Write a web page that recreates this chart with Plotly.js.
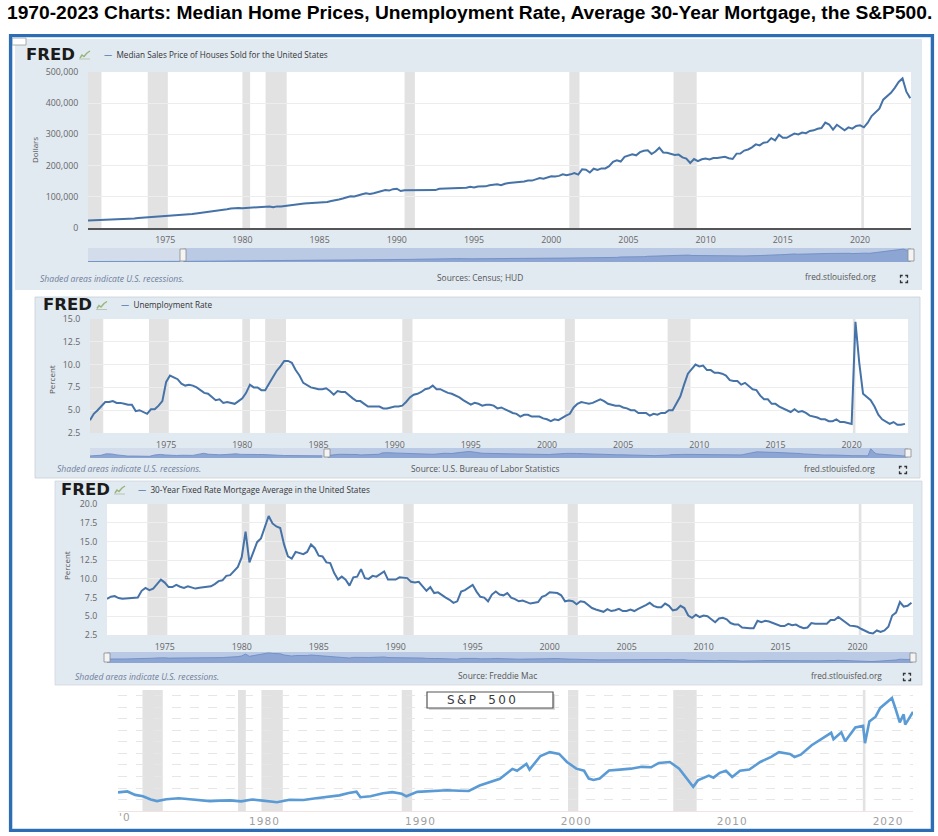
<!DOCTYPE html>
<html><head><meta charset="utf-8">
<script src="https://cdn.plot.ly/plotly-3.0.1.min.js"></script>
<style>html,body{margin:0;padding:0;background:#fff}#chart{width:938px;height:836px}</style>
</head><body><div id="chart"></div>
<script>
// ---------------- DATA ----------------
const recessionStart = [1969.92, 1973.87, 1980.0, 1981.5, 1990.5, 2001.17, 2007.92, 2020.08];
const recessionEnd   = [1970.87, 1975.17, 1980.5, 1982.87, 1991.17, 2001.83, 2009.42, 2020.25];

// Median sales price of houses sold (USD), quarterly from 1970 Q1
const homePriceStart = 1970;
const homePrice = [
 23900,24400,23300,23600, 24800,25300,25500,25800, 26700,27000,27500,28300, 30200,32100,33000,32800,
 35000,35200,36200,37000, 37600,39300,38500,40400, 41800,43200,44300,44600, 46300,47800,49600,50700,
 52000,54700,55500,57800, 59900,62200,63600,63900, 63600,64700,63900,66400, 68200,68200,69500,69200,
 66400,69300,68900,70700, 73800,73500,75400,76800, 78200,79000,80800,80700, 82800,83800,83700,86800,
 88000,91500,94500,97200, 101500,101000,103500,108000, 111600,109000,111500,115400, 118500,121800,119900,124500,
 126000,118500,121000,121000, 120000,120000,120000,120000, 119500,120000,121500,126000, 126500,127000,127000,129500,
 130000,130000,129000,132000, 130000,133000,133500,133500, 137000,138000,140000,137000, 142000,144000,145000,146000,
 149000,149000,152000,152000, 156000,160000,158000,163000, 166000,165000,167000,172000, 169000,172000,176000,171000,
 188000,187000,178000,190000, 186000,191000,191000,198000, 212000,217000,213000,228000, 232000,236000,233000,243000,
 247700,249000,237000,245000, 257400,242200,241000,238400, 233900,235300,226500,222500, 208400,220900,214300,220300,
 222900,219500,224100,224300, 226900,228100,223500,221100, 238400,238700,248200,251700, 258400,268100,264800,273600,
 275200,288000,281000,298900, 289200,289100,295800,302500, 299800,306000,303800,310900, 313100,318200,320500,337900,
 331800,315600,330900,322800, 313000,322500,318400,327100, 329000,322600,337500,358700, 369800,382600,411200,423600,
 433100,449300,468000,479500, 436800,416100
];
// earlier history shown only in the navigator, quarterly from 1963 Q1
const homePriceEarlyStart = 1963;
const homePriceEarly = [
 17800,18000,17900,18500, 18500,18900,18900,19400, 20200,19800,20200,20300, 21000,22100,21500,21400,
 22300,22500,22200,23100, 23000,25000,25700,25700, 25700,25900,24800,24200
];

// Unemployment rate (%), quarterly samples from 1970 Q1
const unempStart = 1970;
const unemployment = [
 3.9,4.6,5.0,5.5, 5.9,5.9,6.0,5.8, 5.8,5.7,5.6,5.6, 4.9,5.0,4.8,4.6, 5.1,5.1,5.5,6.0,
 8.1,8.8,8.6,8.4, 7.9,7.7,7.8,7.7, 7.5,7.2,6.9,6.8, 6.4,6.1,6.2,5.8, 5.9,5.8,5.7,6.0,
 6.3,6.9,7.8,7.5, 7.5,7.2,7.2,7.9, 8.6,9.3,9.8,10.4, 10.4,10.2,9.4,8.8, 8.0,7.7,7.5,7.4,
 7.3,7.3,7.4,7.1, 6.7,7.1,7.0,7.0, 6.6,6.3,6.0,6.0, 5.7,5.4,5.4,5.4, 5.4,5.2,5.2,5.3,
 5.4,5.4,5.5,5.9, 6.4,6.7,6.8,7.0, 7.3,7.4,7.7,7.3, 7.3,7.1,6.9,6.8, 6.6,6.4,6.1,5.8,
 5.6,5.8,5.7,5.5, 5.6,5.6,5.5,5.2, 5.3,5.1,4.9,4.7, 4.6,4.3,4.5,4.5, 4.3,4.3,4.3,4.1,
 4.0,3.8,4.0,3.9, 4.2,4.4,4.6,5.3, 5.7,5.9,5.8,5.7, 5.8,6.0,6.2,6.0, 5.7,5.6,5.5,5.5,
 5.3,5.2,5.0,5.0, 4.7,4.7,4.7,4.4, 4.6,4.5,4.7,4.7, 5.0,5.0,5.8,6.5, 7.8,9.0,9.5,10.0,
 9.8,9.9,9.4,9.4, 9.1,9.1,9.0,8.8, 8.3,8.2,8.2,7.8, 8.0,7.6,7.3,7.2, 6.6,6.2,6.2,5.7,
 5.7,5.4,5.2,5.0, 4.8,5.1,4.8,4.9, 4.7,4.4,4.3,4.2, 4.0,4.0,3.8,3.8, 4.0,3.7,3.7,3.6,
 3.5,14.7,10.2,6.8, 6.4,6.1,5.4,4.5, 4.0,3.7,3.5,3.7, 3.4,3.4,3.5
];
// earlier history shown only in the navigator, half-yearly from 1948
const unempEarlyStart = 1948;
const unemploymentEarly = [
 3.4,3.6, 4.3,6.7, 6.5,5.0, 3.7,3.1, 3.2,3.2, 2.9,2.7, 4.9,5.8, 4.9,4.0, 4.0,4.4, 4.2,4.2,
 5.8,7.5, 6.0,5.1, 5.2,5.5, 6.6,6.7, 5.8,5.4, 5.7,5.6, 5.6,4.9, 4.9,4.4, 4.0,3.8, 3.9,3.8,
 3.7,3.7, 3.4,3.5
];

// 30-year fixed mortgage rate (%), quarterly samples from April 1971
const mortgageStart = 1971.25;
const mortgage = [
 7.33,7.62,7.70, 7.44,7.33,7.40,7.42, 7.44,7.51,8.40,8.80, 8.50,8.70,9.30,9.90, 9.50,8.90,8.90,9.20,
 8.95,8.80,9.00,8.90, 8.70,8.80,8.90,8.90, 9.00,9.30,9.70,9.80, 10.4,10.5,11.0,11.6, 12.9,16.3,12.2,13.7,
 14.9,15.4,16.8,18.4, 17.4,17.0,16.8,14.6, 13.0,12.7,13.6,13.5, 13.3,13.6,14.6,14.1, 13.1,13.0,12.2,12.1,
 10.8,9.9,10.3,9.9, 9.1,10.2,10.3,11.3, 10.1,10.0,10.4,10.3, 10.7,11.0,9.9,9.9, 9.9,10.2,10.1,10.1,
 9.6,9.5,9.6,9.0, 8.4,8.9,8.1,8.2, 7.8,7.5,7.2,6.8, 7.0,8.3,8.5,8.9, 9.2,8.3,7.6,7.5,
 7.0,7.9,8.3,7.9, 7.8,8.1,7.5,7.3, 7.0,7.1,6.95,6.7, 6.8,6.9,7.6,7.8, 8.2,8.2,8.1,7.8,
 7.0,7.1,7.0,6.6, 7.0,6.9,6.5,6.1, 5.9,5.7,5.6,5.95, 5.7,5.8,6.0,5.7, 5.7,5.9,5.7,6.0,
 6.2,6.5,6.8,6.4, 6.2,6.2,6.7,6.4, 5.8,5.9,6.4,6.1, 5.1,4.8,5.2,4.9, 5.1,5.0,4.6,4.2,
 4.7,4.8,4.6,4.1, 3.9,3.9,3.5,3.4, 3.4,3.4,4.4,4.2, 4.4,4.3,4.1,4.0, 3.7,3.7,4.0,3.8,
 3.9,3.6,3.4,3.5, 4.1,4.0,4.0,3.9, 4.0,4.5,4.5,4.9, 4.5,4.1,3.75,3.7, 3.6,3.3,3.0,2.8,
 2.7,3.1,2.9,3.1, 3.6,5.1,5.5,6.9, 6.3,6.4,6.8
];

// S&P 500 (inflation-adjusted level)
const spxYears = [
 1972.3,1972.9,1973.4,1973.9,1974.4,1974.8,1975.4,1976.2,1976.9,1977.5,
 1978.2,1978.8,1979.5,1980.2,1980.9,1981.6,1982.5,1983.3,1984.2,1985.0,
 1985.8,1986.5,1987.1,1987.6,1987.85,1988.5,1989.3,1989.9,1990.5,1990.8,
 1991.5,1992.4,1993.4,1994.2,1994.8,1995.5,1996.2,1996.8,1997.6,1997.9,
 1998.5,1998.7,1999.4,2000.0,2000.6,2001.1,2001.7,2002.2,2002.5,2002.8,
 2003.2,2003.8,2004.5,2005.2,2005.9,2006.5,2007.0,2007.7,2008.3,2008.8,
 2009.2,2009.5,2010.2,2010.5,2010.9,2011.3,2011.7,2012.2,2012.8,2013.5,
 2014.2,2014.7,2015.4,2015.7,2016.1,2016.8,2017.7,2018.05,2018.2,2018.7,
 2018.95,2019.6,2020.1,2020.22,2020.5,2020.9,2021.2,2021.6,2021.95,2022.2,
 2022.45,2022.7,2022.8,2023.0,2023.3
];
const spxValues = [
 810,850,700,640,500,430,510,555,510,470,
 430,450,460,420,500,450,380,490,480,555,
 620,680,780,840,600,640,770,820,750,640,
 830,860,900,880,870,1110,1250,1400,1830,1750,
 2050,1800,2390,2560,2480,2130,1840,1750,1410,1350,
 1410,1760,1800,1840,1920,1900,2090,2130,1840,1410,
 1050,1330,1540,1450,1660,1750,1480,1750,1800,2130,
 2350,2560,2480,2350,2450,2860,3250,3400,3120,3420,
 3030,3630,3700,2950,3890,4100,4480,4700,4910,4400,
 3850,4200,3760,3970,4310
];

const fredTicks = [1975,1980,1985,1990,1995,2000,2005,2010,2015,2020];
const spxTicks = [1980,1990,2000,2010,2020];
const spxTickLabels = ['1\u200A9\u200A8\u200A0','1\u200A9\u200A9\u200A0','2\u200A0\u200A0\u200A0','2\u200A0\u200A1\u200A0','2\u200A0\u200A2\u200A0'];

// ---------------- LAYOUT HELPERS ----------------
const W = 938, H = 836;
const fx = p => p / W, fy = p => 1 - p / H;
const FRED_BLUE = '#4572A7';
const PANEL_BG = '#E1E9F1';
const shapes = [], annotations = [];

function rectPx(x0, y0, x1, y1, fill, line, lw, layer) {
  shapes.push({type:'rect', xref:'paper', yref:'paper', x0:fx(x0), x1:fx(x1), y0:fy(y1), y1:fy(y0),
    fillcolor: fill, line:{color: line || 'rgba(0,0,0,0)', width: lw || 0}, layer: layer || 'below'});
}
function pathPx(pts, color, width, layer) {
  const d = pts.map((p, i) => (i ? 'L' : 'M') + fx(p[0]).toFixed(5) + ',' + fy(p[1]).toFixed(5)).join(' ');
  shapes.push({type:'path', xref:'paper', yref:'paper', path:d, line:{color, width}, layer: layer || 'above'});
}
function ann(text, x, y, font, opts) {
  annotations.push(Object.assign({text, xref:'paper', yref:'paper', x:fx(x), y:fy(y), showarrow:false,
    xanchor:'left', yanchor:'middle', font:Object.assign({family:'Open Sans', size:8.3, color:'#444'}, font || {})}, opts || {}));
}
function expandIcon(cx, cy) {
  const s = 3.5, a = 2.2, c = '#333';
  pathPx([[cx-s, cy-s+a],[cx-s, cy-s],[cx-s+a, cy-s]], c, 1.3);
  pathPx([[cx+s-a, cy-s],[cx+s, cy-s],[cx+s, cy-s+a]], c, 1.3);
  pathPx([[cx-s, cy+s-a],[cx-s, cy+s],[cx-s+a, cy+s]], c, 1.3);
  pathPx([[cx+s-a, cy+s],[cx+s, cy+s],[cx+s, cy+s-a]], c, 1.3);
}
function fredHeader(x, y, lineX, title) {
  ann('FRED', x - 1, y - 0.5, {family:'DejaVu Sans', size:16.5, weight:900, color:'#1b1b1b'});
  // small chart icon
  const ix = x + 54, iy = y - 5;
  pathPx([[ix, iy+9],[ix+11, iy+9]], '#B9C4B0', 1);
  pathPx([[ix+1, iy+8],[ix+3, iy+5],[ix+5, iy+6.5],[ix+8, iy+3],[ix+11, iy+1]], '#97B57A', 1.4);
  ann('<span style="color:' + FRED_BLUE + '">—</span>  ' + title, lineX, y - 0.5, {size: 8.2, color:'#333'});
}
function recessions(xr, yr, range, yrange) {
  for (let i = 0; i < recessionStart.length; i++) {
    const a = Math.max(recessionStart[i], range[0]), b = Math.min(recessionEnd[i], range[1]);
    if (b <= a) continue;
    shapes.push({type:'rect', xref:xr, yref:yr, x0:a, x1:b, y0:yrange[0], y1:yrange[1],
      fillcolor:'#E2E2E2', line:{width:0}, layer:'below'});
  }
}
function navigator(xr, yr, range, yrange, selFrom, selPxL, selPxR, yTop, yBot) {
  shapes.push({type:'rect', xref:xr, yref:yr, x0:range[0], x1:range[1], y0:yrange[0], y1:yrange[1],
    fillcolor:'#D3DCEA', line:{width:0}, layer:'below'});
  shapes.push({type:'rect', xref:xr, yref:yr, x0:selFrom, x1:range[1], y0:yrange[0], y1:yrange[1],
    fillcolor:'#BAC9E4', line:{width:0}, layer:'below'});
  [selPxL, selPxR].forEach(px => rectPx(px-3, yTop+1, px+3, yBot-1, '#F4F4F4', '#8A8A8A', 0.8, 'above'));
}

// ---------------- PAGE DECORATION ----------------
ann('<b>1970-2023 Charts: Median Home Prices, Unemployment Rate, Average 30-Year Mortgage, the S&amp;P500.</b>',
    469, 13, {family:'Liberation Sans', size:19.2, color:'#000'}, {xanchor:'center'});

// panel 1 (home prices)
rectPx(15, 39, 922, 290, PANEL_BG);
rectPx(88, 72, 911, 228, '#FFFFFF');
// panel 2 (unemployment)
rectPx(35, 297, 920, 478, PANEL_BG, '#C9D0D8', 0.8);
rectPx(90, 319, 908, 433, '#FFFFFF');
// panel 3 (mortgage)
rectPx(55, 481, 922, 685, PANEL_BG, '#D0D6DD', 0.8);
rectPx(107, 504, 913, 635, '#FFFFFF');
// little white tab top-left
rectPx(12, 38, 26, 45, '#FFFFFF', '#9A9A9A', 0.8, 'above');

// panel 1 texts
fredHeader(25, 55, 102, 'Median Sales Price of Houses Sold for the United States');
ann('Dollars', 34, 150, {size:8, color:'#555'}, {xanchor:'center', textangle:-90});
ann('<i>Shaded areas indicate U.S. recessions.</i>', 38, 279, {size:8.6, color:'#6F7E9A'});
ann('Sources: Census; HUD', 480, 277, {size:8.4, color:'#555'}, {xanchor:'center'});
ann('fred.stlouisfed.org', 840, 276, {size:8.3, color:'#555'}, {xanchor:'center'});
expandIcon(904, 279);

// panel 2 texts
fredHeader(42, 305.5, 119, 'Unemployment Rate');
ann('Percent', 51, 380, {size:8, color:'#555'}, {xanchor:'center', textangle:-90});
ann('<i>Shaded areas indicate U.S. recessions.</i>', 55, 469, {size:8.6, color:'#6F7E9A'});
ann('Source: U.S. Bureau of Labor Statistics', 485, 469, {size:8.4, color:'#555'}, {xanchor:'center'});
ann('fred.stlouisfed.org', 839, 469, {size:8.3, color:'#555'}, {xanchor:'center'});
expandIcon(903, 470);

// panel 3 texts
fredHeader(60, 490, 136, '30-Year Fixed Rate Mortgage Average in the United States');
ann('Percent', 66, 566, {size:8, color:'#555'}, {xanchor:'center', textangle:-90});
ann('<i>Shaded areas indicate U.S. recessions.</i>', 73, 677, {size:8.6, color:'#6F7E9A'});
ann('Source: Freddie Mac', 497, 675, {size:8.4, color:'#555'}, {xanchor:'center'});
ann('fred.stlouisfed.org', 846, 675, {size:8.3, color:'#555'}, {xanchor:'center'});
expandIcon(907, 677);

// panel 4 (S&P 500) label box
rectPx(429, 694, 555, 710, '#D8D8D8', null, 0, 'above');
rectPx(427, 692, 553, 708, '#FFFFFF', '#555555', 1.2, 'above');
ann('S\u2009&amp;\u2009P\u2002\u2009 5\u20090\u20090', 482, 700, {family:'DejaVu Sans', size:12, color:'#3A3A3A'}, {xanchor:'center'});
ann("'\u200A0", 117, 817, {family:'DejaVu Sans', size:10.5, color:'#A0A0A0'});

// outer frame
rectPx(12, 37, 931, 829, 'rgba(0,0,0,0)', '#9DC3E6', 1, 'above');
rectPx(10.5, 35.5, 932.5, 830.5, 'rgba(0,0,0,0)', '#2E6DB4', 3.2, 'above');

// ---------------- AXES ----------------
const r1 = [1970, 2023.3], r2 = [1970, 2023.7], r3 = [1971.25, 2023.6], r4 = [1972.3, 2023.3];
const nr1 = [1963, 2023.3], nr2 = [1948, 2023.7], nr3 = [1971.25, 2023.6];
const yr1 = [0, 500000], yr2 = [2.5, 15], yr3 = [2.5, 20], yr4 = [0, 5260];
const ny1 = [0, 520000], ny2 = [0, 16], ny3 = [0, 20];

recessions('x', 'y', r1, yr1);
recessions('x2', 'y2', r2, yr2);
recessions('x3', 'y3', r3, yr3);
recessions('x4', 'y4', r4, yr4);
navigator('x5', 'y5', nr1, ny1, 1970, 183, 911, 248, 262);
navigator('x6', 'y6', nr2, ny2, 1970, 327, 908, 448, 458);
navigator('x7', 'y7', nr3, ny3, nr3[0], 107, 913, 652, 663);

const tf = {family:'Open Sans', size:8.8, color:'#666'};
function fredX(dom, range, yAnchor, extra) {
  return Object.assign({domain:[fx(dom[0]), fx(dom[1])], range, anchor:yAnchor, tickvals:fredTicks,
    ticks:'outside', ticklen:3, tickcolor:'rgba(0,0,0,0)', tickfont:tf, showgrid:false, zeroline:false,
    fixedrange:true}, extra || {});
}
function fredY(dom, range, xAnchor, dtick, fmt, extra) {
  return Object.assign({domain:[fy(dom[1]), fy(dom[0])], range, anchor:xAnchor, dtick, tickformat:fmt,
    ticks:'outside', ticklen:7, tickcolor:'rgba(0,0,0,0)', tickfont:tf, gridcolor:'#EDEDED', gridwidth:1,
    zeroline:false, showline:false, fixedrange:true}, extra || {});
}
function navAxes(dom, range, yAnchor) {
  return {domain:[fx(dom[0]), fx(dom[1])], range, anchor:yAnchor, visible:false, fixedrange:true};
}
function navY(dom, range, xAnchor) {
  return {domain:[fy(dom[1]), fy(dom[0])], range, anchor:xAnchor, visible:false, fixedrange:true};
}

const layout = {
  width: W, height: H, margin:{l:0, r:0, t:0, b:0}, showlegend:false,
  paper_bgcolor:'#FFFFFF', plot_bgcolor:'rgba(0,0,0,0)',
  xaxis: fredX([88, 911], r1, 'y', {showline:true, linecolor:'#555', linewidth:1.6}),
  yaxis: fredY([72, 228], yr1, 'x', 100000, ',d'),
  xaxis2: fredX([90, 908], r2, 'y2'),
  yaxis2: fredY([319, 433], yr2, 'x2', 2.5, '.1f'),
  xaxis3: fredX([107, 913], r3, 'y3'),
  yaxis3: fredY([504, 635], yr3, 'x3', 2.5, '.1f'),
  xaxis4: {domain:[fx(118), fx(913)], range:r4, anchor:'y4', tickvals:spxTicks, ticktext:spxTickLabels,
    ticks:'', ticklabelshift:26,
    tickfont:{family:'DejaVu Sans', size:10.5, color:'#A0A0A0'}, showgrid:false, zeroline:false,
    showline:true, linecolor:'#EFE3E3', linewidth:1, fixedrange:true},
  yaxis4: {domain:[fy(811), fy(690)], range:yr4, anchor:'x4', dtick:500, showticklabels:false, ticks:'',
    gridcolor:'#E6E6E6', griddash:'dash', gridwidth:1, zeroline:false, fixedrange:true},
  xaxis5: navAxes([88, 911], nr1, 'y5'), yaxis5: navY([248, 262], ny1, 'x5'),
  xaxis6: navAxes([90, 908], nr2, 'y6'), yaxis6: navY([448, 458], ny2, 'x6'),
  xaxis7: navAxes([107, 913], nr3, 'y7'), yaxis7: navY([652, 663], ny3, 'x7'),
  shapes, annotations
};

// ---------------- TRACES ----------------
const fredLine = {color: FRED_BLUE, width: 2};
const navStyle = {type:'scatter', mode:'lines', fill:'tozeroy', fillcolor:'#8CA5D2',
  line:{color:'#6A89C2', width:0.8}, hoverinfo:'skip'};
const data = [
  {type:'scatter', mode:'lines', x0:homePriceStart, dx:0.25, y:homePrice, line:fredLine, xaxis:'x', yaxis:'y'},
  {type:'scatter', mode:'lines', x0:unempStart, dx:0.25, y:unemployment, line:fredLine, xaxis:'x2', yaxis:'y2'},
  {type:'scatter', mode:'lines', x0:mortgageStart, dx:0.25, y:mortgage, line:fredLine, xaxis:'x3', yaxis:'y3'},
  {type:'scatter', mode:'lines', x:spxYears, y:spxValues, line:{color:'#5B9BD5', width:2.6}, xaxis:'x4', yaxis:'y4'},
  Object.assign({x0:homePriceEarlyStart, dx:0.25, y:homePriceEarly, xaxis:'x5', yaxis:'y5'}, navStyle),
  Object.assign({x0:homePriceStart, dx:0.25, y:homePrice, xaxis:'x5', yaxis:'y5'}, navStyle),
  Object.assign({x0:unempEarlyStart, dx:0.5, y:unemploymentEarly, xaxis:'x6', yaxis:'y6'}, navStyle),
  Object.assign({x0:unempStart, dx:0.25, y:unemployment, xaxis:'x6', yaxis:'y6'}, navStyle),
  Object.assign({x0:mortgageStart, dx:0.25, y:mortgage, xaxis:'x7', yaxis:'y7'}, navStyle)
];

Plotly.newPlot('chart', data, layout, {displayModeBar:false, staticPlot:true});
</script>
</body></html>
